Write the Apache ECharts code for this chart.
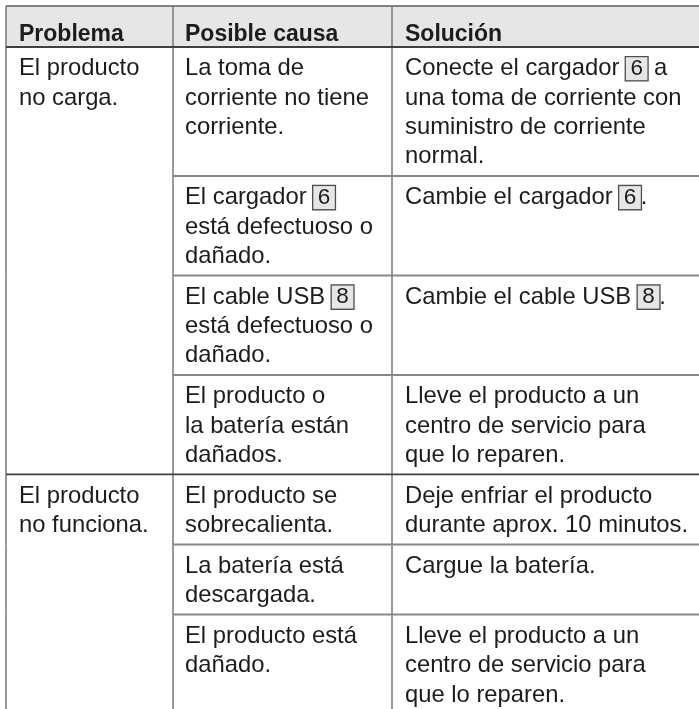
<!DOCTYPE html>
<html>
<head>
<meta charset="utf-8">
<script src="https://cdn.jsdelivr.net/npm/echarts@6/dist/echarts.min.js"></script>
<style>
html,body{margin:0;padding:0;background:#ffffff;}
#chart{width:699px;height:709px;}
</style>
</head>
<body>
<div id="chart"></div>
<script>
// ---- Data ----
const headers = ['Problema', 'Posible causa', 'Solución'];
const problems = ['El producto\nno carga.', 'El producto\nno funciona.'];
const problemOf = [0, 0, 0, 0, 1, 1, 1];
const causes = [
  'La toma de\ncorriente no tiene\ncorriente.',
  'El cargador {box|6}\nestá defectuoso o\ndañado.',
  'El cable USB {box|8}\nestá defectuoso o\ndañado.',
  'El producto o\nla batería están\ndañados.',
  'El producto se\nsobrecalienta.',
  'La batería está\ndescargada.',
  'El producto está\ndañado.'
];
const solutions = [
  'Conecte el cargador {box|6} a\nuna toma de corriente con\nsuministro de corriente\nnormal.',
  'Cambie el cargador {box|6}.',
  'Cambie el cable USB {box|8}.',
  'Lleve el producto a un\ncentro de servicio para\nque lo reparen.',
  'Deje enfriar el producto\ndurante aprox. 10 minutos.',
  'Cargue la batería.',
  'Lleve el producto a un\ncentro de servicio para\nque lo reparen.'
];

// ---- Layout / style ----
const FONT = '"Liberation Sans", Arial, Helvetica, sans-serif';
const TEXT_COLOR = '#1e1b1c';
const COLS = [6, 173, 392, 699];
const PAD_X = [13, 12, 13];
const TABLE_TOP = 6, HEADER_H = 41, LINE_H = 29.4, ROW_PAD = 11.3, TEXT_TOP = 7, HEADER_TEXT_TOP = 13.5;
const BODY_SIZE = 23.8, HEAD_SIZE = 23;
const DARK = '#404040', MID = '#777777', LIGHT = '#888888';

const lineCount = s => s.split('\n').length;
const isGroupStart = i => i === 0 || problemOf[i] !== problemOf[i - 1];

const rowData = [];
let y = TABLE_TOP;
rowData.push([-1, y, y + HEADER_H]);
y += HEADER_H;
causes.forEach((c, i) => {
  const n = Math.max(lineCount(c), lineCount(solutions[i]),
    isGroupStart(i) ? lineCount(problems[problemOf[i]]) : 1);
  const h = n * LINE_H + ROW_PAD;
  rowData.push([i, y, y + h]);
  y += h;
});

const richBox = {
  box: {
    fontSize: 22.5, fontFamily: FONT, fill: TEXT_COLOR,
    backgroundColor: '#e6e6e6', borderColor: '#4d4d4d', borderWidth: 1.3,
    padding: [0, 4.5, 0, 4.5]
  }
};

function line(p1, p2, color, w) {
  return { type: 'line', shape: { x1: p1[0], y1: p1[1], x2: p2[0], y2: p2[1] },
    style: { stroke: color, lineWidth: w } };
}
function txt(p, s, bold) {
  return { type: 'text', style: {
    text: s, x: p[0], y: p[1],
    fontSize: bold ? HEAD_SIZE : BODY_SIZE, fontFamily: FONT,
    fontWeight: bold ? 'bold' : 'normal',
    fill: TEXT_COLOR, lineHeight: LINE_H,
    align: 'left', verticalAlign: 'top',
    rich: richBox
  } };
}

function renderItem(params, api) {
  const idx = api.value(0), top = api.value(1), bottom = api.value(2);
  const c = (xx, yy) => api.coord([xx, yy]);
  const children = [];
  if (idx === -1) {
    const a = c(COLS[0], top), b = c(COLS[3], bottom);
    children.push({ type: 'rect', shape: { x: a[0], y: a[1], width: b[0] - a[0], height: b[1] - a[1] },
      style: { fill: '#e6e6e6' } });
    children.push(line(c(COLS[0], top), c(COLS[3], top), '#5c5c5c', 1.5));
    for (let k = 0; k < 3; k++) {
      children.push(line(c(COLS[k], top), c(COLS[k], bottom), MID, 1.5));
      children.push(txt(c(COLS[k] + PAD_X[k], top + HEADER_TEXT_TOP), headers[k], true));
    }
    return { type: 'group', children };
  }
  const gs = isGroupStart(idx);
  for (let k = 0; k < 3; k++) {
    children.push(line(c(COLS[k], top), c(COLS[k], bottom), MID, 1.5));
  }
  if (gs) {
    children.push(line(c(COLS[0], top), c(COLS[3], top), DARK, idx === 0 ? 2 : 1.6));
    children.push(txt(c(COLS[0] + PAD_X[0], top + TEXT_TOP), problems[problemOf[idx]], false));
  } else {
    children.push(line(c(COLS[1], top), c(COLS[3], top), LIGHT, 2));
  }
  children.push(txt(c(COLS[1] + PAD_X[1], top + TEXT_TOP), causes[idx], false));
  children.push(txt(c(COLS[2] + PAD_X[2], top + TEXT_TOP), solutions[idx], false));
  return { type: 'group', children };
}

const chart = echarts.init(document.getElementById('chart'), null, { renderer: 'canvas' });
chart.setOption({
  animation: false,
  backgroundColor: '#ffffff',
  grid: { left: 0, right: 0, top: 0, bottom: 0 },
  xAxis: { type: 'value', min: 0, max: 699, show: false },
  yAxis: { type: 'value', min: 0, max: 709, inverse: true, show: false },
  series: [{
    type: 'custom',
    renderItem: renderItem,
    data: rowData,
    clip: true,
    silent: true
  }]
});
</script>
</body>
</html>
